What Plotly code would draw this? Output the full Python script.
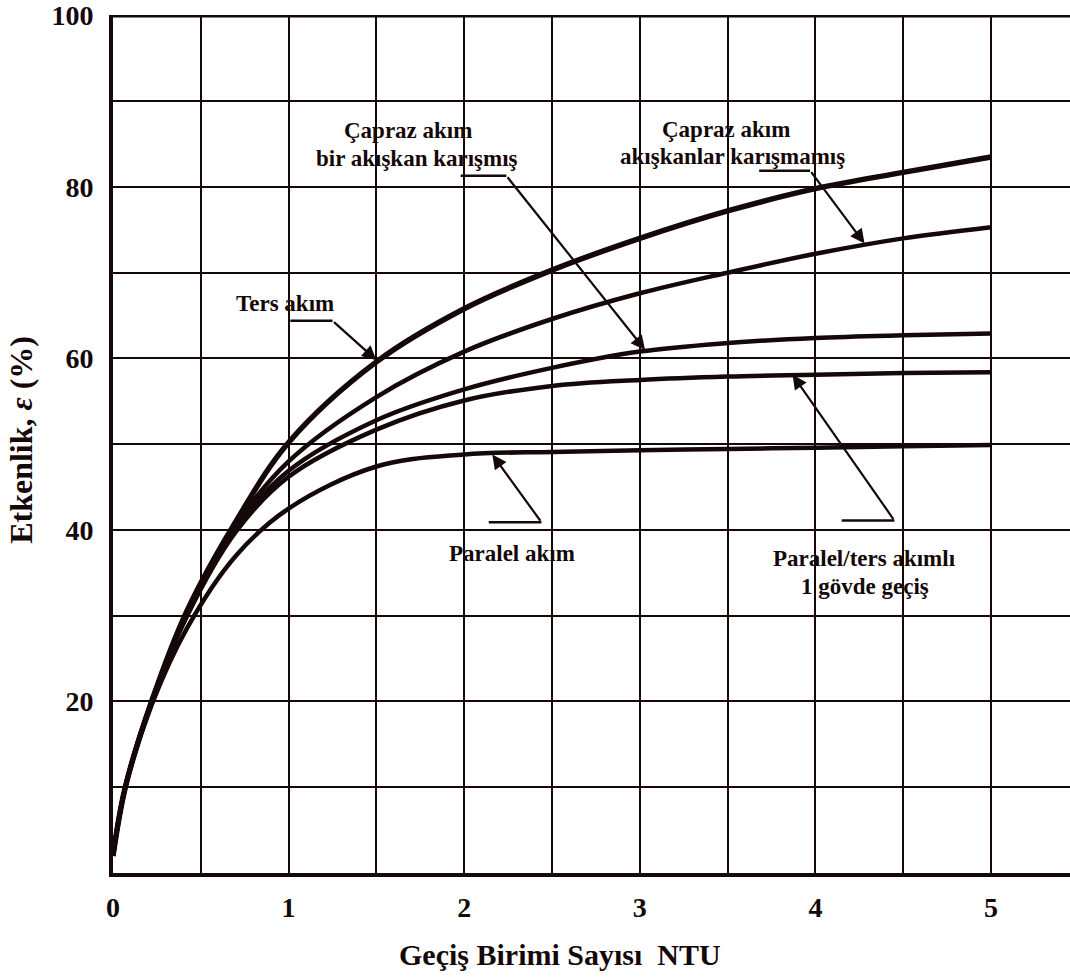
import plotly.graph_objects as go

# ---- data ----
ntu = [0, 0.07, 0.22, 0.42, 0.7, 1.0, 1.5, 2.0, 2.5, 3.0, 3.5, 4.0, 4.5, 5.0]
ters_akim = [2, 10, 20, 30.5, 41, 50.2, 59.6, 65.8, 70.3, 74, 77.2, 79.8, 81.7, 83.5]
capraz_karismamis = [2, 10, 20, 30.2, 40.6, 48.0, 55.5, 60.8, 64.6, 67.6, 70.0, 72.2, 74.0, 75.3]
capraz_bir_karismis = [2, 10, 20, 30, 40.2, 46.9, 52.8, 56.4, 58.9, 60.8, 61.8, 62.4, 62.7, 62.9]
govde_gecis = [2, 10, 20, 29.9, 39.8, 46.2, 51.7, 55.1, 56.8, 57.5, 57.9, 58.1, 58.3, 58.4]
paralel_akim = [2, 10, 19.6, 28.5, 37.0, 42.5, 47.4, 48.8, 49.1, 49.3, 49.45, 49.6, 49.75, 49.9]

x_ticks = [0, 1, 2, 3, 4, 5]
y_ticks = [20, 40, 60, 80, 100]

series = [
    ("Ters akım", ters_akim, 5.5),
    ("Çapraz akım akışkanlar karışmamış", capraz_karismamis, 4.5),
    ("Çapraz akım bir akışkan karışmış", capraz_bir_karismis, 4.5),
    ("Paralel/ters akımlı 1 gövde geçiş", govde_gecis, 4.5),
    ("Paralel akım", paralel_akim, 4.5),
]

# label text lines: (text, x, y)
label_lines = [
    ("Ters akım", 0.98, 66.4),
    ("Çapraz akım", 1.68, 86.6),
    ("bir akışkan karışmış", 1.73, 83.3),
    ("Çapraz akım", 3.49, 86.7),
    ("akışkanlar karışmamış", 3.53, 83.5),
    ("Paralel akım", 2.27, 37.2),
    ("Paralel/ters akımlı", 4.28, 36.7),
    ("1 gövde geçiş", 4.28, 33.4),
]
# leaders: (horizontal x0, horizontal x1, horizontal y, corner x, arrow tip x, arrow tip y)
leaders = [
    (1.01, 1.25, 64.4, 1.25, 1.50, 59.8),
    (1.98, 2.24, 81.3, 2.24, 3.03, 61.0),
    (3.68, 3.97, 81.9, 3.97, 4.28, 73.4),
    (2.14, 2.44, 40.9, 2.44, 2.16, 48.8),
    (4.15, 4.45, 41.1, 4.45, 3.87, 58.1),
]

INK = "#140808"
FONT = "Liberation Serif"

fig = go.Figure()
for name, vals, w in series:
    fig.add_trace(go.Scatter(
        x=ntu, y=vals, mode="lines", name=name,
        line=dict(color=INK, width=w, shape="spline", smoothing=1.0),
        showlegend=False, hoverinfo="skip",
    ))

shapes = []
annotations = []
for hx0, hx1, hy, cx, tx, ty in leaders:
    shapes.append(dict(type="line", xref="x", yref="y", x0=hx0, x1=hx1, y0=hy, y1=hy,
                       line=dict(color=INK, width=2.5)))
    annotations.append(dict(
        x=tx, y=ty, xref="x", yref="y", ax=cx, ay=hy, axref="x", ayref="y",
        text="", showarrow=True, arrowhead=2, arrowsize=1.3, arrowwidth=2.2,
        arrowcolor=INK,
    ))
for text, lx, ly in label_lines:
    annotations.append(dict(
        x=lx, y=ly, xref="x", yref="y", text="<b>" + text + "</b>", showarrow=False,
        font=dict(family=FONT, size=23, color=INK), align="center",
        xanchor="center", yanchor="middle",
    ))

# axis titles
annotations.append(dict(
    x=0.467, y=-0.095, xref="paper", yref="paper", showarrow=False,
    text="<b>Geçiş Birimi Sayısı  NTU</b>", xanchor="center", yanchor="middle",
    font=dict(family=FONT, size=30, color=INK),
))
annotations.append(dict(
    x=-0.096, y=0.505, xref="paper", yref="paper", showarrow=False, textangle=-90,
    text="<b>Etkenlik, <i>ε</i> (%)</b>", xanchor="center", yanchor="middle",
    font=dict(family=FONT, size=32, color=INK),
))

# top border
shapes.append(dict(type="line", xref="x", yref="y", x0=0, x1=5.45, y0=100, y1=100,
                   line=dict(color=INK, width=4)))

fig.update_layout(
    width=1070, height=980,
    margin=dict(l=113, r=0, t=12, b=107),
    paper_bgcolor="white", plot_bgcolor="white",
    shapes=shapes, annotations=annotations,
    font=dict(family=FONT, color=INK),
)
fig.update_xaxes(
    range=[0, 5.45], tickvals=x_ticks, ticktext=[str(v) for v in x_ticks],
    showgrid=True, gridcolor=INK, gridwidth=2,
    minor=dict(dtick=0.5, tick0=0, showgrid=True, gridcolor=INK, gridwidth=2),
    showline=True, linecolor=INK, linewidth=4, zeroline=False,
    ticks="", ticklabelstandoff=6, ticklabeloverflow="allow",
    tickfont=dict(family=FONT, size=28, color=INK, weight="bold"),
)
fig.update_yaxes(
    range=[0, 100.05], tickvals=y_ticks, ticktext=[str(v) for v in y_ticks],
    showgrid=True, gridcolor=INK, gridwidth=2,
    minor=dict(dtick=10, tick0=0, showgrid=True, gridcolor=INK, gridwidth=2),
    showline=True, linecolor=INK, linewidth=4, zeroline=False,
    ticks="", ticklabelstandoff=10, ticklabeloverflow="allow",
    tickfont=dict(family=FONT, size=28, color=INK, weight="bold"),
)

fig.write_html("out.html")
